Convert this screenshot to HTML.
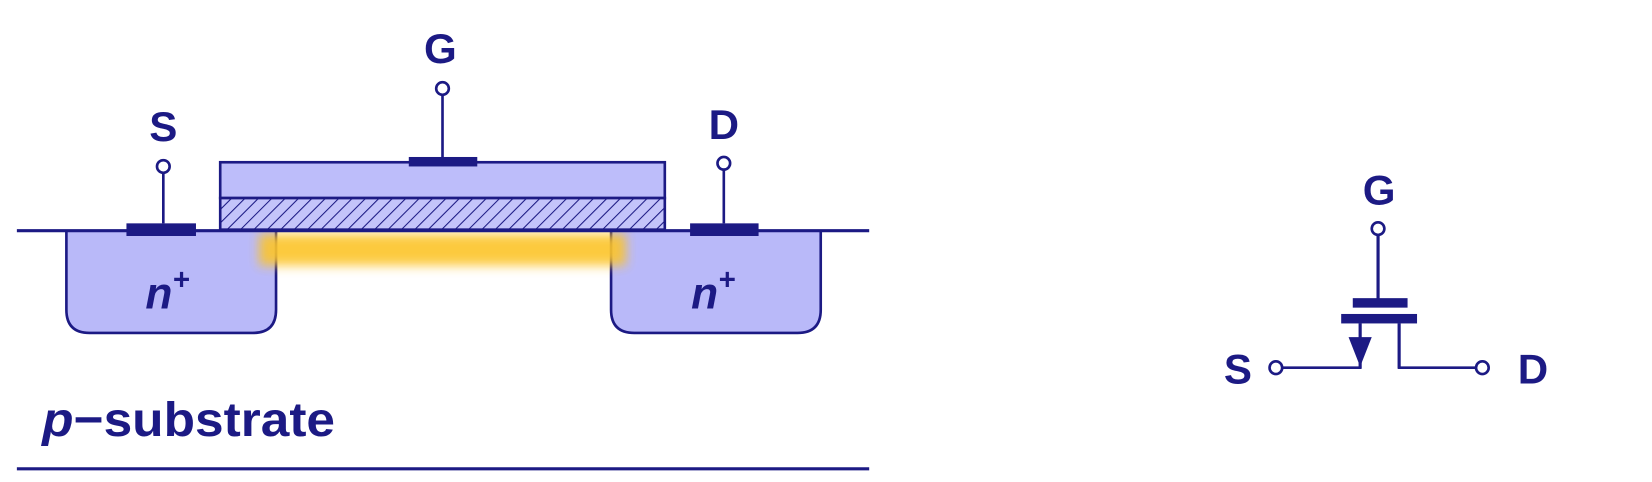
<!DOCTYPE html>
<html><head><meta charset="utf-8"><style>
html,body{margin:0;padding:0;background:#fff;width:1652px;height:482px;overflow:hidden}
text{font-family:"Liberation Sans",sans-serif;font-weight:bold;fill:#1c1a84}
</style></head><body>
<svg width="1652" height="482" viewBox="0 0 1568 457.5">
<defs>
<pattern id="hatch" width="9" height="9" patternUnits="userSpaceOnUse" patternTransform="rotate(45)">
<rect width="9" height="9" fill="#c4c4fa"/><line x1="0" y1="0" x2="0" y2="9" stroke="#1c1a84" stroke-width="2"/>
</pattern>
<filter id="blur" x="-20%" y="-50%" width="140%" height="200%"><feGaussianBlur stdDeviation="5"/></filter>
</defs>
<g>
<path d="M63 219 L63 294 Q63 316 85 316 L240 316 Q262 316 262 294 L262 219" fill="#b9b9f9" stroke="#1c1a84" stroke-width="2.5"/>
<path d="M580 219 L580 294 Q580 316 602 316 L757 316 Q779 316 779 294 L779 219" fill="#b9b9f9" stroke="#1c1a84" stroke-width="2.5"/>
<rect x="246" y="222" width="348" height="30" fill="#fcc52a" filter="url(#blur)" opacity="0.9"/>
<rect x="209" y="154" width="422" height="34" fill="#bdbdfa" stroke="#1c1a84" stroke-width="2.5"/>
<rect x="209" y="188" width="422" height="30" fill="url(#hatch)" stroke="#1c1a84" stroke-width="2.5"/>
<line x1="16" y1="219" x2="825" y2="219" stroke="#1c1a84" stroke-width="3"/>
<line x1="16" y1="445" x2="825" y2="445" stroke="#1c1a84" stroke-width="3"/>
<rect x="388" y="149" width="65" height="9" fill="#1c1a84"/>
<line x1="420" y1="90" x2="420" y2="150" stroke="#1c1a84" stroke-width="2.5"/>
<circle cx="420" cy="84" r="6" fill="#fff" stroke="#1c1a84" stroke-width="2.5"/>
<text x="418" y="60" font-size="40" text-anchor="middle">G</text>
<rect x="120" y="212" width="66" height="12" fill="#1c1a84"/>
<line x1="155" y1="164" x2="155" y2="212" stroke="#1c1a84" stroke-width="2.5"/>
<circle cx="155" cy="158" r="6" fill="#fff" stroke="#1c1a84" stroke-width="2.5"/>
<text x="155" y="134" font-size="40" text-anchor="middle">S</text>
<rect x="655" y="212" width="65" height="12" fill="#1c1a84"/>
<line x1="687" y1="161" x2="687" y2="212" stroke="#1c1a84" stroke-width="2.5"/>
<circle cx="687" cy="155" r="6" fill="#fff" stroke="#1c1a84" stroke-width="2.5"/>
<text x="687" y="132" font-size="40" text-anchor="middle">D</text>
<text x="138" y="293" font-size="42" font-style="italic">n<tspan font-size="28" dy="-18">+</tspan></text>
<text x="656" y="293" font-size="42" font-style="italic">n<tspan font-size="28" dy="-18">+</tspan></text>
<text x="40" y="414" font-size="46" textLength="278" lengthAdjust="spacingAndGlyphs"><tspan font-style="italic">p</tspan>−substrate</text>
</g>
<g>
<text x="1309" y="194" font-size="40" text-anchor="middle">G</text>
<circle cx="1308" cy="217" r="6" fill="#fff" stroke="#1c1a84" stroke-width="2.5"/>
<line x1="1308" y1="223" x2="1308" y2="285" stroke="#1c1a84" stroke-width="3"/>
<rect x="1284" y="283" width="52" height="9" fill="#1c1a84"/>
<rect x="1273" y="298" width="72" height="9" fill="#1c1a84"/>
<line x1="1291" y1="307" x2="1291" y2="350" stroke="#1c1a84" stroke-width="3"/>
<polygon points="1280,320 1302,320 1291,348" fill="#1c1a84"/>
<line x1="1328" y1="307" x2="1328" y2="350" stroke="#1c1a84" stroke-width="3"/>
<line x1="1217" y1="349" x2="1292" y2="349" stroke="#1c1a84" stroke-width="2.5"/>
<line x1="1327" y1="349" x2="1401" y2="349" stroke="#1c1a84" stroke-width="2.5"/>
<circle cx="1211" cy="349" r="6" fill="#fff" stroke="#1c1a84" stroke-width="2.5"/>
<circle cx="1407" cy="349" r="6" fill="#fff" stroke="#1c1a84" stroke-width="2.5"/>
<text x="1175" y="364" font-size="40" text-anchor="middle">S</text>
<text x="1455" y="364" font-size="40" text-anchor="middle">D</text>
</g>
</svg>
</body></html>
